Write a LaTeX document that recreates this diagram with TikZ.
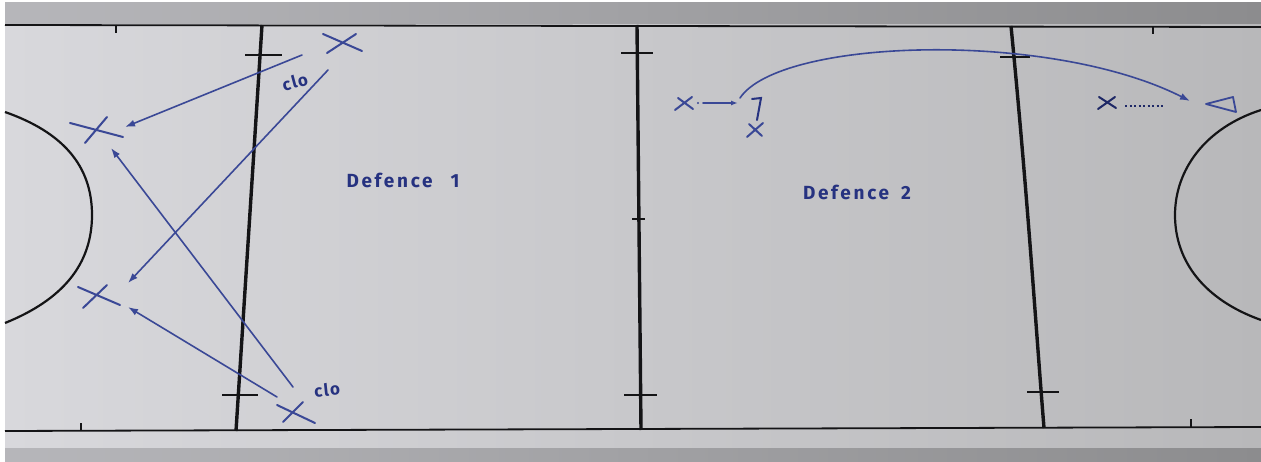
\documentclass[tikz,border=0pt]{standalone}
\usepackage{fontspec}
\newfontfamily\hand[LetterSpace=14]{Fira Sans}
\newfontfamily\handtight[LetterSpace=8]{Fira Sans}
\usetikzlibrary{arrows.meta}
\definecolor{pen}{RGB}{58,72,150}
\definecolor{ink}{RGB}{38,50,128}
\definecolor{court}{RGB}{20,20,22}
\definecolor{boardL}{RGB}{216,216,220}
\definecolor{boardR}{RGB}{184,184,186}
\definecolor{bandL}{RGB}{182,182,186}
\definecolor{bandR}{RGB}{140,140,142}
\begin{document}
\begin{tikzpicture}[x=1pt,y=-1pt,
  boundline/.style={draw=court,line width=1.8pt},
  halfline/.style={draw=court,line width=3.4pt},
  tickline/.style={draw=court,line width=1.6pt},
  penline/.style={draw=pen,line width=1.6pt,line cap=round},
  crossline/.style={draw=pen,line width=2pt,line cap=round},
  penarrow/.style={penline,-{Latex[length=10pt,width=7pt]}},
  lbl/.style={text=ink,font=\hand\fontsize{19}{22}\selectfont\bfseries,inner sep=0pt},
  clolbl/.style={text=ink,font=\handtight\fontsize{17}{19}\selectfont\bfseries,inner sep=0pt}]
\useasboundingbox (0,0) rectangle (1261,462);
\fill[white] (0,0) rectangle (1261,462);
\shade[left color=boardL,right color=boardR] (5,3) rectangle (1261,462);
\shade[left color=bandL,right color=bandR] (5,3) rectangle (1261,24);
\shade[left color=bandL,right color=bandR] (5,448) rectangle (1261,462);
% court boundaries
\draw[boundline] (5,25) -- (1261,27);
\draw[boundline] (5,431) -- (1261,427);
% third lines
\draw[halfline] (262,25) -- (236,431);
\draw[halfline] (637,25) -- (641,430);
\draw[halfline] (1011,26) .. controls (1028,200) and (1036,330) .. (1044,428);
% ticks
\draw[tickline] (245,55) -- (282,55);
\draw[tickline] (222,395) -- (258,395);
\draw[tickline] (621,53) -- (653,53);
\draw[tickline] (632,219) -- (645,219);
\draw[tickline] (624,395) -- (657,395);
\draw[tickline] (1000,57) -- (1030,57);
\draw[tickline] (1027,392) -- (1059,392);
\draw[tickline] (116,25) -- (116,33);
\draw[tickline] (81,423) -- (81,431);
\draw[tickline] (1153,27) -- (1153,34);
\draw[tickline] (1191,419) -- (1191,427);
% circles
\draw[boundline,line width=2.2pt] (5,112) .. controls (62,132) and (92,165) .. (92,215) .. controls (92,265) and (62,300) .. (5,323);
\draw[boundline,line width=2.2pt] (1261,110) .. controls (1205,128) and (1175,170) .. (1175,215) .. controls (1175,262) and (1205,300) .. (1261,320);
% players
\coordinate (xa) at (342,43);
\coordinate (xb) at (97,130);
\coordinate (xc) at (97,297);
\coordinate (xd) at (295,412);
\coordinate (xe) at (684,103);
\coordinate (xf) at (755,130);
\coordinate (xg) at (1107,103);
\draw[crossline] (xa) ++(-19,-9) -- ++(39,17) (xa) ++(-15,10) -- ++(29,-19);
\draw[crossline] (xb) ++(-27,-7) -- ++(53,14) (xb) ++(-12,13) -- ++(22,-26);
\draw[crossline] (xc) ++(-19,-10) -- ++(42,18) (xc) ++(-14,11) -- ++(24,-23);
\draw[crossline] (xd) ++(-18,-7) -- ++(38,18) (xd) ++(-12,10) -- ++(20,-20);
\draw[crossline] (xe) ++(-9,7) -- ++(17,-13) (xe) ++(-6,-5) -- ++(15,11);
\draw[crossline] (xf) ++(-8,7) -- ++(16,-14) (xf) ++(-6,-6) -- ++(13,12);
\draw[crossline,draw=ink!80!black] (xg) ++(-9,6) -- ++(17,-12) (xg) ++(-8,-6) -- ++(17,11);
% arrows left
\coordinate (a1s) at (302,55);  \coordinate (a1e) at (125,127);
\coordinate (a2s) at (328,70);  \coordinate (a2e) at (128,283);
\coordinate (a3s) at (293,387); \coordinate (a3e) at (111,148);
\coordinate (a4s) at (277,397); \coordinate (a4e) at (128,307);
\draw[penarrow] (a1s) -- (a1e);
\draw[penarrow] (a2s) -- (a2e);
\draw[penarrow] (a3s) -- (a3e);
\draw[penarrow] (a4s) -- (a4e);
% labels
\node[clolbl,rotate=15] (c1) at (295,82) {clo};
\node[clolbl,rotate=6] (c2) at (327,390) {clo};
\node[lbl] (d1) at (403,180) {Defence\hspace{18pt}1};
\node[lbl] (d2) at (857,192) {Defence\hspace{12pt}2};
% right half
\coordinate (dot1) at (698,103);
\coordinate (s1) at (703,103);
\coordinate (s2) at (738,103);
\fill[pen] (dot1) circle (1.2pt);
\draw[penline,-{Latex[length=7pt,width=5pt]}] (s1) -- (s2);
\coordinate (k1) at (752,99);
\coordinate (k2) at (761,98);
\coordinate (k3) at (757,120);
\draw[penline,line width=2pt,draw=ink] (k1) -- (k2) -- (k3);
\coordinate (cs) at (740,98);
\coordinate (ce) at (1190,101);
\draw[penarrow] (cs) .. controls (780,38) and (1050,30) .. (ce);
\coordinate (dt1) at (1125,106);
\coordinate (dt2) at (1165,106);
\draw[draw=ink!80!black,line width=1.8pt,dash pattern=on 2pt off 2.5pt] (dt1) -- (dt2);
\coordinate (t1) at (1206,104);
\coordinate (t2) at (1233,97);
\coordinate (t3) at (1236,112);
\draw[penline,line width=1.8pt,line join=round] (t1) -- (t2) -- (t3) -- cycle;
\end{tikzpicture}
\end{document}
